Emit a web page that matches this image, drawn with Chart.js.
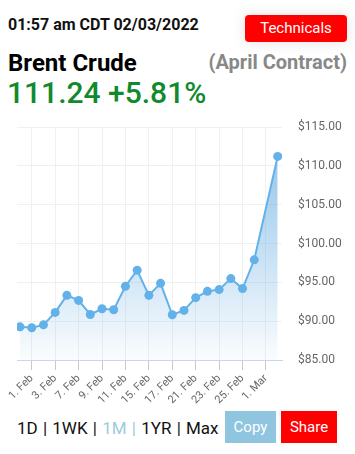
<!DOCTYPE html>
<html>
<head>
<meta charset="utf-8">
<script src="https://cdn.jsdelivr.net/npm/chart.js@4"></script>
<style>
  body { margin: 0; width: 355px; height: 454px; background: #fff; font-family: Roboto, sans-serif; position: relative; overflow: hidden; }
  .abs { position: absolute; white-space: nowrap; }
  #stamp { left: 8px; top: 15px; font-size: 16px; font-weight: bold; color: #111; }
  #tech { left: 245px; top: 15px; width: 102px; height: 27px; background: #f00; color: #fff; border-radius: 4px;
          font-size: 15px; line-height: 27px; text-align: center; box-shadow: 0 0 14px rgba(0,0,0,0.12); }
  #name { left: 8px; top: 49px; font-size: 24px; font-weight: bold; color: #000; }
  #contract { right: 8px; top: 50px; font-size: 20px; font-weight: bold; color: #888; }
  #price { left: 7px; top: 75px; font-size: 30px; font-weight: 500; color: #108a2c; }
  #chartBox { left: 0; top: 116px; width: 355px; height: 289px; }
  #periods { left: 17px; top: 418px; font-size: 17px; color: #111; word-spacing: 1px; }
  #periods .on { color: #9ccbe0; }
  .btn { top: 411px; height: 32px; line-height: 32px; color: #fff; font-size: 15px; text-align: center; }
  #copy { left: 225px; width: 51px; background: #8fc5df; }
  #share { left: 281px; width: 56px; background: #f00; }
</style>
</head>
<body>
<div class="abs" id="stamp">01:57 am CDT 02/03/2022</div>
<div class="abs" id="tech">Technicals</div>
<div class="abs" id="name">Brent Crude</div>
<div class="abs" id="contract">(April Contract)</div>
<div class="abs" id="price">111.24 +5.81%</div>
<div class="abs" id="chartBox"><canvas id="brentChart"></canvas></div>
<div class="abs" id="periods">1D | 1WK | <span class="on">1M</span> <span class="on">|</span> 1YR | Max</div>
<div class="abs btn" id="copy">Copy</div>
<div class="abs btn" id="share">Share</div>

<script>
// trading days shown on the chart (1. Mar has no close in the feed)
const dates = ['31. Jan', '1. Feb', '2. Feb', '3. Feb', '4. Feb', '7. Feb', '8. Feb', '9. Feb', '10. Feb',
  '11. Feb', '14. Feb', '15. Feb', '16. Feb', '17. Feb', '18. Feb', '21. Feb', '22. Feb', '23. Feb',
  '24. Feb', '25. Feb', '28. Feb', '1. Mar', '2. Mar'];
const prices = [89.27, 89.15, 89.53, 91.13, 93.33, 92.68, 90.87, 91.60, 91.48,
  94.50, 96.57, 93.33, 94.88, 90.83, 91.39, 93.03, 93.85, 94.07,
  95.49, 94.20, 97.91, null, 111.24];
const tickLabels = ['1. Feb', '3. Feb', '7. Feb', '9. Feb', '11. Feb', '15. Feb', '17. Feb',
  '21. Feb', '23. Feb', '25. Feb', '1. Mar'];
const priceTicks = [85, 90, 95, 100, 105, 110, 115];

const lineColor = '#62b2e9';

const points = prices.map((v, i) => ({ x: i, y: v }));

const ctx = document.getElementById('brentChart').getContext('2d');
new Chart(ctx, {
  type: 'line',
  data: {
    datasets: [{
      data: points,
      borderColor: lineColor,
      borderWidth: 2,
      pointRadius: 4.5,
      pointBackgroundColor: lineColor,
      pointBorderWidth: 0,
      spanGaps: true,
      tension: 0,
      fill: 'start',
      backgroundColor: function(context) {
        const area = context.chart.chartArea;
        if (!area) return 'rgba(98,178,233,0.3)';
        const g = context.chart.ctx.createLinearGradient(0, area.top, 0, area.bottom);
        g.addColorStop(0, 'rgba(98,170,225,0.75)');
        g.addColorStop(1, 'rgba(98,170,225,0.03)');
        return g;
      }
    }]
  },
  options: {
    responsive: true,
    maintainAspectRatio: false,
    animation: false,
    layout: { padding: { left: 17, right: 0, top: 0, bottom: 0 } },
    plugins: { legend: { display: false }, tooltip: { enabled: false } },
    scales: {
      x: {
        type: 'linear',
        min: -0.26,
        max: 22.37,
        afterBuildTicks: function(scale) {
          scale.ticks = tickLabels.map(t => ({ value: dates.indexOf(t) }));
        },
        afterFit: function(scale) { scale.height = 45; },
        ticks: {
          autoSkip: false,
          maxRotation: 45,
          minRotation: 45,
          padding: 2,
          color: '#666',
          font: { family: 'Roboto', size: 11 },
          callback: function(value) { return dates[value]; }
        },
        grid: { color: '#f0f0f0', tickColor: '#c8c8c8', tickLength: 10 },
        border: { display: true, color: '#ccd6eb' }
      },
      y: {
        position: 'right',
        min: 85,
        max: 115,
        afterBuildTicks: function(scale) {
          scale.ticks = priceTicks.map(v => ({ value: v }));
        },
        afterFit: function(scale) { scale.width = 73; },
        ticks: {
          padding: 4,
          color: '#666',
          font: { family: 'Roboto', size: 12 },
          callback: function(value) { return '$' + value.toFixed(2); }
        },
        // invisible tick marks just push the labels away from the plot
        grid: { color: '#f0f0f0', tickColor: 'rgba(0,0,0,0)', tickLength: 12 },
        border: { display: false }
      }
    }
  }
});
</script>
</body>
</html>
